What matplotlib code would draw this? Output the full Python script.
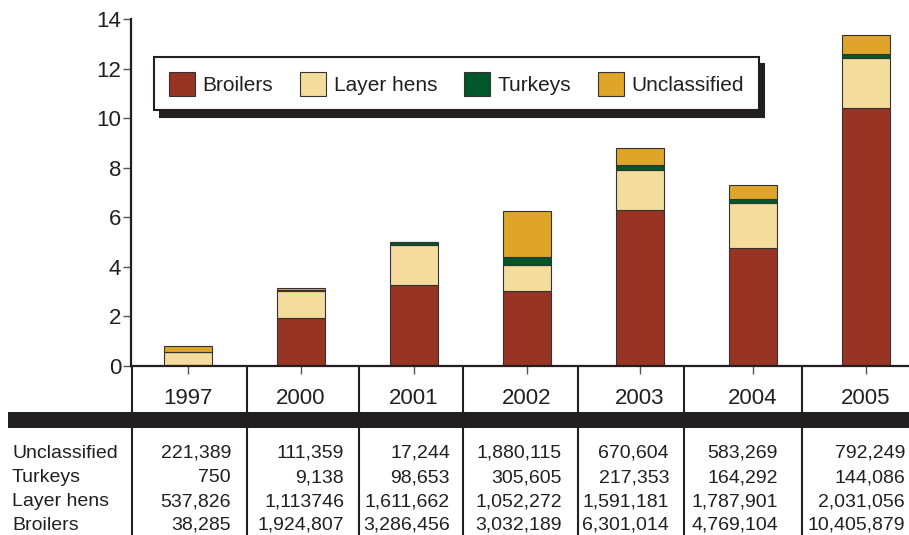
import numpy as np
import matplotlib
matplotlib.use("Agg")
import matplotlib.pyplot as plt
from matplotlib.patches import Rectangle
import matplotlib.transforms as mtransforms

plt.rcParams['font.family'] = ['Liberation Sans', 'DejaVu Sans']

# data (table strings kept as printed in the source, incl. "1,113746")
years = ['1997', '2000', '2001', '2002', '2003', '2004', '2005']
series = ['Broilers', 'Layer hens', 'Turkeys', 'Unclassified']
broilers = ['38,285', '1,924,807', '3,286,456', '3,032,189', '6,301,014', '4,769,104', '10,405,879']
layer_hens = ['537,826', '1,113746', '1,611,662', '1,052,272', '1,591,181', '1,787,901', '2,031,056']
turkeys = ['750', '9,138', '98,653', '305,605', '217,353', '164,292', '144,086']
unclassified = ['221,389', '111,359', '17,244', '1,880,115', '670,604', '583,269', '792,249']
colors = ['#973424', '#f3dc9c', '#00582a', '#dfa42a']

INK = '#231f20'
W, H = 909, 535
fig = plt.figure(figsize=(W / 100, H / 100), dpi=100)

# bar chart
ax = fig.add_axes([131 / W, 1 - 366 / H, (W - 131) / W, (366 - 19) / H])
x = np.arange(len(years))
rows = [broilers, layer_hens, turkeys, unclassified]
bottom = np.zeros(len(years))
for name, row, c in zip(series, rows, colors):
    vals = np.array([float(v.replace(',', '')) for v in row]) / 1e6
    ax.bar(x, vals, 0.43, bottom=bottom, color=c, edgecolor='#333333',
           linewidth=0.8, label=name, zorder=2)
    bottom += vals

ax.set_xlim(-0.504, 6.381)
ax.set_ylim(0, 14)
ax.set_yticks(range(0, 15, 2))
ax.set_xticks(x)
ax.tick_params(axis='y', length=6, width=1, color='#555555', labelsize=16,
               pad=1, labelcolor=INK)
ax.tick_params(axis='x', length=6, width=1, color='#555555', labelbottom=False)
for s in ['top', 'right']:
    ax.spines[s].set_visible(False)
for s in ['left', 'bottom']:
    ax.spines[s].set_linewidth(1.6)
    ax.spines[s].set_color(INK)

leg = ax.legend(ncol=4, loc='upper left', bbox_to_anchor=(154 / W, 1 - 57 / H),
                bbox_transform=fig.transFigure, borderaxespad=0, fontsize=15,
                frameon=True, fancybox=False, edgecolor=INK, framealpha=1,
                handlelength=1.25, handleheight=1.4, handletextpad=0.38,
                columnspacing=1.27, borderpad=0.7,
                shadow={'ox': 4, 'oy': -5, 'facecolor': INK, 'edgecolor': INK, 'alpha': 1})
leg.get_frame().set_linewidth(1.5)
for t in leg.get_texts():
    t.set_color(INK)

# table underneath, in pixel coordinates
tab = fig.add_axes([0, 0, 1, 1])
tab.set_xlim(0, W)
tab.set_ylim(H, 0)
tab.axis('off')
tab.patch.set_alpha(0)

tab.add_patch(Rectangle((8, 412), W - 8, 16, color=INK, lw=0))
col_edges = [132, 247, 359, 463, 578, 684, 802]
tab.vlines(col_edges, 367, H, color=INK, lw=1.5)

yr_tr = mtransforms.blended_transform_factory(ax.transData, tab.transData)
for i, yr in enumerate(years):
    ax.text(x[i], 404, yr, transform=yr_tr, ha='center', va='baseline',
            fontsize=16, color=INK, clip_on=False)

row_base = [458, 482.5, 506.5, 530]
row_names = ['Unclassified', 'Turkeys', 'Layer hens', 'Broilers']
row_vals = [unclassified, turkeys, layer_hens, broilers]
val_right = [231, 344, 450, 562, 669, 778, 905]
for yb, nm, vals in zip(row_base, row_names, row_vals):
    tab.text(12, yb, nm, ha='left', va='baseline', fontsize=14, color=INK)
    for xr, v in zip(val_right, vals):
        tab.text(xr, yb, v, ha='right', va='baseline', fontsize=14, color=INK)

fig.savefig('out.png', dpi=100)
